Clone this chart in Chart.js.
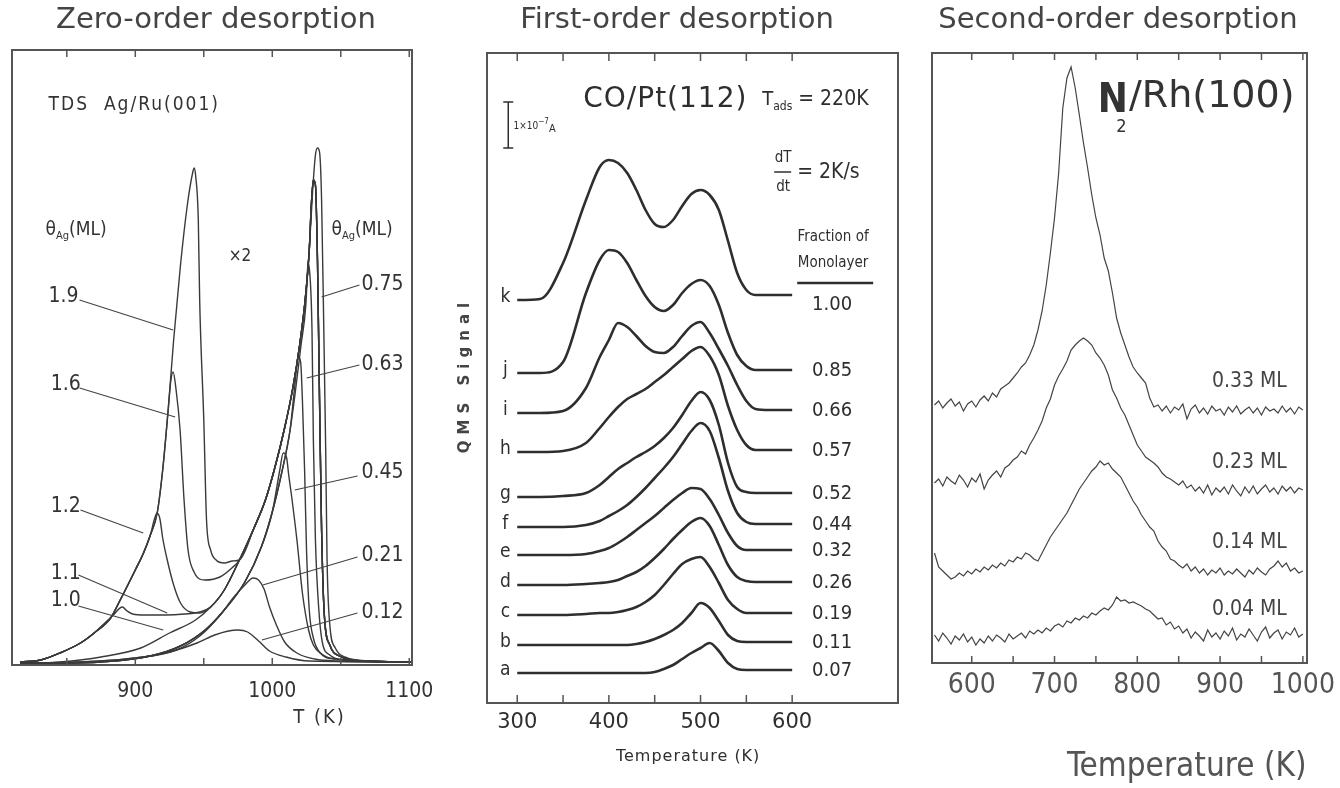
<!DOCTYPE html>
<html lang="en">
<head>
<meta charset="UTF-8">
<title>Zero-, first- and second-order desorption</title>
<script src="https://cdn.jsdelivr.net/npm/chart.js"></script>
<style>
  body { margin: 0; background: #fff; }
  #wrap { position: relative; width: 1340px; height: 788px; overflow: hidden; }
  #wrap canvas { position: absolute; left: 0; top: 0; }
</style>
</head>
<body>
<div id="wrap">
  <canvas id="zero" width="1340" height="788"></canvas>
  <canvas id="first" width="1340" height="788"></canvas>
  <canvas id="second" width="1340" height="788"></canvas>
</div>
<script>
// ---------- panel 1: zero order, TDS Ag/Ru(001) ----------
const zeroTicks = [850, 900, 950, 1000, 1050, 1100];
const zeroTickLabels = [900, 1000, 1100];
const zeroNames = ['1.9', '1.6', '1.2', '1.1', '1.0', '0.75', '0.63', '0.45', '0.21', '0.12'];

// pieces of the traces, [T (K), signal a.u.]
const multiEdge = [[816, 3], [831, 5], [845, 12], [860, 22], [870, 32], [882, 47], [889, 65], [900, 95], [906, 112],
  [911, 130], [916, 152], [920, 195], [924, 255], [928, 325], [933, 400], [938, 460], [942, 493]];
const monoEdge = [[845, 3], [875, 8], [904, 17], [925, 32], [944, 45], [955, 58], [965, 75], [976, 105], [987, 138],
  [995, 165], [1002, 198], [1009, 237], [1015, 277], [1020, 320], [1024, 365], [1027, 415]];
const subEdge = [[816, 2], [845, 2], [875, 3], [911, 9], [933, 19], [951, 35], [965, 55], [980, 83], [992, 118],
  [1000, 153], [1007, 193], [1013, 235], [1017, 275], [1021, 320], [1024.5, 360]];
const tallFall = [[1029.5, 475], [1031.5, 510], [1033, 517], [1034.5, 513], [1036, 465], [1037.5, 345], [1039, 215],
  [1040, 105], [1042, 40], [1046, 17], [1053, 8], [1071, 4], [1101, 3]];
const lowFall = [[1028.5, 460], [1030, 485], [1031.5, 480], [1033, 405], [1034.5, 265], [1036, 135], [1038, 50],
  [1042, 20], [1049, 9], [1067, 4], [1101, 3]];

const zero19 = multiEdge.concat([[943, 497], [944, 490], [946, 445], [947, 365], [950, 245], [952, 145], [955, 115],
  [959, 105], [965, 102], [971, 104]], monoEdge.slice(7), tallFall);
const zero16 = multiEdge.slice(0, 13).concat([[926, 285], [927.6, 293], [929.8, 275], [932.7, 235], [935.6, 165],
  [938.5, 115], [942.9, 93], [950.9, 85], [961.8, 88], [970.5, 97]], monoEdge.slice(7), lowFall);
const zero12 = multiEdge.slice(0, 10).concat([[914, 146], [916, 152], [918, 146], [920, 127], [923, 107], [928, 80],
  [933, 62], [940, 53], [947, 52]], monoEdge.slice(5), lowFall);
const zero11 = multiEdge.slice(0, 5).concat([[877, 41], [884, 50], [890.5, 58], [894, 54], [898, 51], [907, 50],
  [922, 50], [936, 51], [947, 53]], monoEdge.slice(5), lowFall);
const zero10 = [[816, 2], [830, 2]].concat(monoEdge, lowFall);
const zero075 = subEdge.concat([[1025.5, 388], [1026, 402], [1027, 397], [1029, 335], [1030, 225], [1031.5, 125],
  [1034, 55], [1036.5, 23], [1042, 10], [1053, 5], [1101, 3]]);
const zero063 = subEdge.slice(0, 12).concat([[1016.5, 280], [1019, 308], [1020.7, 303], [1022, 265], [1023.6, 195],
  [1025, 115], [1027, 55], [1030, 27], [1034.5, 13], [1045.5, 6], [1101, 3]]);
const zero045 = subEdge.slice(0, 10).concat([[1005.5, 195], [1008, 212], [1010.5, 207], [1012, 190], [1014, 170],
  [1018, 125], [1022, 72], [1026.5, 35], [1030, 20], [1036, 11], [1045.5, 6], [1101, 3]]);
const zero021 = [[816, 2], [860, 3], [900, 7], [930, 15], [948, 30], [962, 50], [972, 68], [980, 80], [986, 87],
  [990, 85], [994, 76], [998, 58], [1003, 40], [1009, 23], [1018, 12], [1031, 6], [1049, 4], [1101, 3]];
const zero012 = [[816, 2], [860, 3], [900, 7], [925, 13], [945, 22], [958, 30], [968, 34], [975, 35], [982, 33],
  [990, 24], [998, 14], [1010, 8], [1027, 4], [1101, 3]];
const zeroCurves = [zero19, zero16, zero12, zero11, zero10, zero075, zero063, zero045, zero021, zero012];

// ---------- panel 2: first order, CO/Pt(112) ----------
const firstTicks = [300, 350, 400, 450, 500, 550, 600];
const firstTickLabels = [300, 400, 500, 600];
const firstT = [300, 325, 350, 375, 390, 400, 410, 420, 430, 440, 450, 460, 470, 480, 490, 500, 510, 520, 530, 540, 550, 560, 575, 600];
const firstK = [403, 404, 440, 503, 536, 543, 540, 530, 513, 493, 479, 476, 483, 497, 509, 513, 508, 493, 462, 430, 413, 408, 408, 408];
const firstJ = [330, 330, 341, 410, 443, 453, 451, 440, 423, 407, 396, 392, 398, 410, 419, 423, 417, 398, 370, 348, 337, 333, 333, 333];
const firstI = [290, 290, 292, 315, 346, 363, 380, 376, 367, 357, 351, 350, 356, 367, 377, 381, 370, 354, 337, 318, 302, 294, 293, 293];
const firstH = [251, 251, 252, 260, 275, 286, 296, 304, 309, 314, 321, 328, 336, 344, 352, 356, 347, 328, 297, 273, 258, 253, 253, 253];
const firstG = [206, 206, 207, 210, 218, 226, 234, 240, 246, 251, 257, 265, 275, 288, 302, 311, 303, 278, 240, 216, 211, 210, 210, 210];
const firstF = [176, 176, 176, 178, 182, 187, 192, 198, 206, 215, 225, 235, 246, 259, 272, 280, 272, 245, 212, 190, 181, 179, 179, 179];
const firstE = [148, 148, 148, 149, 152, 155, 160, 166, 173, 180, 187, 195, 203, 210, 215, 214, 204, 188, 170, 157, 153, 153, 153, 153];
const firstD = [118, 118, 118, 119, 120, 121, 123, 127, 131, 137, 145, 154, 164, 173, 181, 185, 177, 158, 138, 126, 122, 121, 121, 121];
const firstC = [88, 88, 88, 89, 90, 90, 91, 93, 96, 101, 108, 118, 129, 139, 144, 146, 136, 120, 103, 94, 90, 90, 90, 90];
const firstB = [58, 58, 58, 58, 58, 58, 58, 58, 59, 61, 64, 68, 73, 80, 90, 100, 95, 82, 68, 62, 61, 61, 61, 61];
const firstA = [30, 30, 30, 30, 30, 30, 30, 30, 30, 30, 31, 34, 38, 44, 50, 55, 60, 52, 40, 34, 33, 33, 33, 33];
const firstSignals = [firstK, firstJ, firstI, firstH, firstG, firstF, firstE, firstD, firstC, firstB, firstA];
const firstLetters = ['k', 'j', 'i', 'h', 'g', 'f', 'e', 'd', 'c', 'b', 'a'];
const firstFractions = ['1.00', '0.85', '0.66', '0.57', '0.52', '0.44', '0.32', '0.26', '0.19', '0.11', '0.07'];

// ---------- panel 3: second order, N2/Rh(100) ----------
const secondTicks = [600, 650, 700, 750, 800, 850, 900, 950, 1000];
const secondTickLabels = [600, 700, 800, 900, 1000];
const secondT = [
  555, 560, 565, 570, 575, 580, 585, 590, 595, 600,
  605, 610, 615, 620, 625, 630, 635, 640, 645, 650,
  655, 660, 665, 670, 675, 680, 685, 690, 695, 700,
  705, 710, 715, 720, 725, 730, 735, 740, 745, 750,
  755, 760, 765, 770, 775, 780, 785, 790, 795, 800,
  805, 810, 815, 820, 825, 830, 835, 840, 845, 850,
  855, 860, 865, 870, 875, 880, 885, 890, 895, 900,
  905, 910, 915, 920, 925, 930, 935, 940, 945, 950,
  955, 960, 965, 970, 975, 980, 985, 990, 995, 1000];
const second033 = [
  258, 262, 255, 260, 264, 257, 261, 252, 259, 262,
  256, 263, 267, 262, 270, 266, 274, 277, 280, 285,
  290, 296, 300, 308, 318, 333, 352, 378, 410, 445,
  490, 555, 585, 596, 575, 548, 520, 495, 468, 445,
  428, 405, 392, 370, 345, 330, 318, 306, 296, 290,
  285, 280, 265, 256, 258, 252, 257, 250, 256, 253,
  259, 244, 254, 258, 250, 255, 249, 257, 252, 254,
  248, 256, 251, 257, 249, 253, 256, 250, 255, 248,
  256, 252, 254, 250, 257, 251, 255, 249, 256, 253];
const second023 = [
  180, 184, 177, 186, 182, 179, 188, 183, 176, 185,
  181, 189, 174, 183, 188, 192, 186, 195, 198, 203,
  206, 212, 209, 218, 225, 233, 242, 255, 264, 278,
  287, 294, 302, 313, 318, 322, 325, 322, 318, 310,
  305, 298, 288, 273, 265, 255, 248, 238, 228, 218,
  212, 206, 203, 200, 196, 190, 186, 184, 181, 178,
  182, 175, 178, 172, 176, 170, 178, 168, 175, 171,
  176, 169, 178, 172, 167, 176, 170, 177, 169, 174,
  178, 171, 175, 169, 177, 172, 176, 170, 175, 173];
const second014 = [
  110, 96, 92, 88, 84, 86, 90, 87, 92, 89,
  94, 91, 96, 93, 98, 95, 100, 97, 103, 101,
  106, 104, 110, 108, 104, 102, 110, 118, 126, 132,
  138, 144, 150, 158, 166, 174, 180, 186, 192, 196,
  202, 198, 200, 194, 190, 186, 178, 170, 162, 156,
  148, 142, 136, 132, 122, 116, 112, 104, 102, 98,
  95, 99, 92, 96, 90, 94, 88, 93, 90, 95,
  88, 92, 89, 94, 90, 86, 93, 89, 95, 91,
  88, 94, 97, 102, 96, 100, 92, 95, 90, 92];
const second004 = [
  28, 22, 30, 25, 19, 27, 23, 29, 21, 26,
  18, 24, 20, 27, 22, 28, 25, 21, 29, 24,
  27, 30, 25, 32, 29, 33, 30, 35, 32, 37,
  39, 36, 42, 40, 45, 43, 47, 45, 50, 48,
  52, 55, 53, 58, 66, 62, 63, 60, 61, 59,
  57, 54, 52, 48, 44, 45, 38, 41, 34, 37,
  30, 34, 25, 31, 27, 22, 33, 26, 30, 24,
  32, 27, 35, 23, 29, 26, 34, 28, 22, 31,
  36, 25, 30, 33, 24, 31, 28, 35, 26, 29];
const secondSignals = [second033, second023, second014, second004];
const secondNames = ['0.33 ML', '0.23 ML', '0.14 ML', '0.04 ML'];

// ---------- helpers ----------
const NARROW = '"Liberation Sans Narrow", "DejaVu Sans Condensed", "Arial Narrow", sans-serif';
const WIDE = '"DejaVu Sans", Verdana, sans-serif';

function line(points, color, width, smooth) {
  return {
    data: points.map(p => ({ x: p[0], y: p[1] })),
    borderColor: color,
    borderWidth: width,
    pointRadius: 0,
    fill: false,
    tension: 0,
    cubicInterpolationMode: smooth ? 'monotone' : 'default'
  };
}

function baseOptions(pad, xr, yr) {
  return {
    responsive: false,
    animation: false,
    events: [],
    layout: { padding: pad },
    plugins: { legend: { display: false }, tooltip: { enabled: false } },
    scales: {
      x: { type: 'linear', display: false, min: xr[0], max: xr[1] },
      y: { type: 'linear', display: false, min: yr[0], max: yr[1] }
    }
  };
}

function text(ctx, s, x, y, font, color, align) {
  ctx.font = font;
  ctx.fillStyle = color;
  ctx.textAlign = align || 'left';
  ctx.textBaseline = 'middle';
  ctx.fillText(s, x, y);
}

// runs of [string, font, dy] written left to right
function runs(ctx, parts, x, y, color) {
  ctx.textAlign = 'left';
  ctx.textBaseline = 'middle';
  ctx.fillStyle = color;
  parts.forEach(([s, font, dy]) => {
    ctx.font = font;
    ctx.fillText(s, x, y + dy);
    x += ctx.measureText(s).width;
  });
}

function seg(ctx, a, b, color, w) {
  ctx.strokeStyle = color;
  ctx.lineWidth = w;
  ctx.beginPath();
  ctx.moveTo(a[0], a[1]);
  ctx.lineTo(b[0], b[1]);
  ctx.stroke();
}

function frame(chart, ticks, labels, o) {
  const { ctx, chartArea: a, scales: { x } } = chart;
  ctx.strokeStyle = o.color;
  ctx.lineWidth = 2;
  ctx.strokeRect(a.left, a.top, a.right - a.left, a.bottom - a.top);
  ctx.lineWidth = 1.5;
  ticks.forEach(t => {
    const px = x.getPixelForValue(t);
    ctx.beginPath();
    ctx.moveTo(px, a.bottom); ctx.lineTo(px, a.bottom - o.tick);
    ctx.moveTo(px, a.top); ctx.lineTo(px, a.top + o.tick);
    ctx.stroke();
  });
  labels.forEach(t => text(ctx, String(t), x.getPixelForValue(t), a.bottom + o.gap, o.font, o.textColor, 'center'));
}

function title(ctx, s, x) {
  text(ctx, s, x, 20, '29px ' + WIDE, '#444', 'center');
}

// ---------- panel 1 ----------
const zeroDecor = {
  id: 'zeroDecor',
  afterDraw(chart) {
    const { ctx, scales: { x, y } } = chart;
    const P = (t, s) => [x.getPixelForValue(t), y.getPixelForValue(s)];
    const ink = '#333';
    const f = '21px ' + NARROW;
    ctx.save();
    frame(chart, zeroTicks, zeroTickLabels, { color: '#555', tick: 7, gap: 27, font: '21px ' + NARROW, textColor: '#333' });
    title(ctx, 'Zero-order desorption', 216);
    ctx.letterSpacing = '2px';
    let p = P(1034.5, -53);
    text(ctx, 'T (K)', p[0], p[1], '20px ' + NARROW, ink, 'center');
    p = P(836.7, 560);
    text(ctx, 'TDS  Ag/Ru(001)', p[0], p[1], '19px ' + NARROW, ink);
    ctx.letterSpacing = '0px';
    [[834.5, 435], [1043.3, 435]].forEach(q => {
      const r = P(q[0], q[1]);
      runs(ctx, [['θ', '19px ' + NARROW, 0], ['Ag', '11px ' + NARROW, 6], ['(ML)', '19px ' + NARROW, 0]], r[0], r[1], ink);
    });
    p = P(976.4, 408);
    text(ctx, '×2', p[0], p[1], '17px ' + NARROW, ink, 'center');

    const left = [[836.7, 368, 859.3, 365, 927.6, 335], [838.2, 280, 859.3, 277, 929.1, 248],
      [838.2, 158, 860, 155, 905.8, 132], [838.2, 91, 858.5, 90, 923.3, 52], [838.2, 64, 858.5, 59, 920.4, 35]];
    const right = [[1065.1, 380, 1063.6, 380, 1036, 368], [1065.1, 300, 1063.6, 300, 1025.1, 287],
      [1065.1, 192, 1062.2, 189, 1016.4, 175], [1065.1, 109, 1062.2, 108, 993.1, 80], [1065.1, 52, 1062.2, 52, 992.4, 25]];
    left.concat(right).forEach((q, i) => {
      const t = P(q[0], q[1]);
      text(ctx, zeroNames[i], t[0], t[1], f, ink);
      seg(ctx, P(q[2], q[3]), P(q[4], q[5]), '#444', 1.2);
    });
    ctx.restore();
  }
};

new Chart(document.getElementById('zero'), {
  type: 'line',
  data: { datasets: zeroCurves.map(c => line(c, '#3a3a3a', 1.4, true)) },
  options: baseOptions({ left: 12, top: 50, right: 928, bottom: 123 }, [810, 1102], [0, 615]),
  plugins: [zeroDecor]
});

// ---------- panel 2 ----------
const firstDecor = {
  id: 'firstDecor',
  afterDraw(chart) {
    const { ctx, scales: { x, y } } = chart;
    const P = (t, s) => [x.getPixelForValue(t), y.getPixelForValue(s)];
    const ink = '#2e2e2e';
    ctx.save();
    frame(chart, firstTicks, firstTickLabels, { color: '#555', tick: 8, gap: 20, font: '21px ' + WIDE, textColor: ink });
    title(ctx, 'First-order desorption', 677);
    ctx.letterSpacing = '1px';
    let p = P(486.5, -54);
    text(ctx, 'Temperature (K)', p[0], p[1], '16px ' + WIDE, ink, 'center');
    p = P(372, 603);
    text(ctx, 'CO/Pt(112)', p[0], p[1], '28px ' + WIDE, ink);
    ctx.letterSpacing = '0px';
    p = P(567.3, 603);
    runs(ctx, [['T', '20px ' + NARROW, 0], ['ads', '12px ' + NARROW, 7], [' = 220K', '21px ' + NARROW, 0]], p[0], p[1], ink);

    p = P(590.2, 545);
    text(ctx, 'dT', p[0], p[1], '15px ' + NARROW, ink, 'center');
    p = P(590.2, 516);
    text(ctx, 'dt', p[0], p[1], '15px ' + NARROW, ink, 'center');
    seg(ctx, P(580.4, 531), P(598.9, 531), ink, 1.5);
    p = P(605.5, 530);
    text(ctx, '= 2K/s', p[0], p[1], '21px ' + NARROW, ink);

    p = P(644.7, 466);
    text(ctx, 'Fraction of', p[0], p[1], '15px ' + NARROW, ink, 'center');
    p = P(644.7, 440);
    text(ctx, 'Monolayer', p[0], p[1], '15px ' + NARROW, ink, 'center');
    seg(ctx, P(605.5, 420), P(688.4, 420), ink, 2.5);

    // current scale bar
    const b0 = P(290.2, 601), b1 = P(290.2, 555);
    seg(ctx, b0, b1, ink, 1.5);
    seg(ctx, [b0[0] - 5, b0[1]], [b0[0] + 5, b0[1]], ink, 1.5);
    seg(ctx, [b1[0] - 5, b1[1]], [b1[0] + 5, b1[1]], ink, 1.5);
    p = P(296, 577);
    runs(ctx, [['1×10', '10px ' + NARROW, 0], ['−7', '8px ' + NARROW, -4], ['A', '11px ' + NARROW, 3]], p[0], p[1], ink);

    p = P(243.3, 328);
    ctx.save();
    ctx.translate(p[0], p[1]);
    ctx.rotate(-Math.PI / 2);
    ctx.letterSpacing = '6px';
    text(ctx, 'QMS Signal', 0, 0, 'bold 15px ' + WIDE, '#444', 'center');
    ctx.restore();

    firstSignals.forEach((s, i) => {
      const l = P(287, s[0]);
      text(ctx, firstLetters[i], l[0], l[1] - 3, '19px ' + NARROW, ink, 'center');
      const r = P(643.6, s[s.length - 1]);
      text(ctx, firstFractions[i], r[0], r[1] + (i === 0 ? 10 : 1), '20px ' + NARROW, ink, 'center');
    });
    ctx.restore();
  }
};

new Chart(document.getElementById('first'), {
  type: 'line',
  data: { datasets: firstSignals.map(s => line(firstT.map((t, i) => [t, s[i]]), '#2e2e2e', 2.6, true)) },
  options: baseOptions({ left: 487, top: 53, right: 442, bottom: 85 }, [267, 715.5], [0, 650]),
  plugins: [firstDecor]
});

// ---------- panel 3 ----------
const secondDecor = {
  id: 'secondDecor',
  afterDraw(chart) {
    const { ctx, scales: { x, y } } = chart;
    const P = (t, s) => [x.getPixelForValue(t), y.getPixelForValue(s)];
    const ink = '#444';
    ctx.save();
    frame(chart, secondTicks, secondTickLabels, { color: '#555', tick: 7, gap: 23, font: '28px ' + NARROW, textColor: '#555' });
    title(ctx, 'Second-order desorption', 1118);
    let p = P(859.8, -104);
    text(ctx, 'Temperature (K)', p[0], p[1], '33px ' + NARROW, '#555', 'center');

    p = P(752.3, 561);
    text(ctx, 'N', p[0], p[1], 'bold 40px ' + NARROW, '#333');
    p = P(774.5, 536);
    text(ctx, '2', p[0], p[1], '18px ' + NARROW, '#333');
    p = P(790, 566);
    text(ctx, '/Rh(100)', p[0], p[1], '38px ' + WIDE, '#333');

    secondSignals.forEach((s, i) => {
      const q = P(980.7, [281, 200, 120, 53][i]);
      text(ctx, secondNames[i], q[0], q[1], '21px ' + NARROW, ink, 'right');
    });
    ctx.restore();
  }
};

new Chart(document.getElementById('second'), {
  type: 'line',
  data: { datasets: secondSignals.map(s => line(secondT.map((t, i) => [t, s[i]]), '#444', 1.2, false)) },
  options: baseOptions({ left: 932, top: 53, right: 33, bottom: 125 }, [552, 1005], [0, 610]),
  plugins: [secondDecor]
});
</script>
</body>
</html>
